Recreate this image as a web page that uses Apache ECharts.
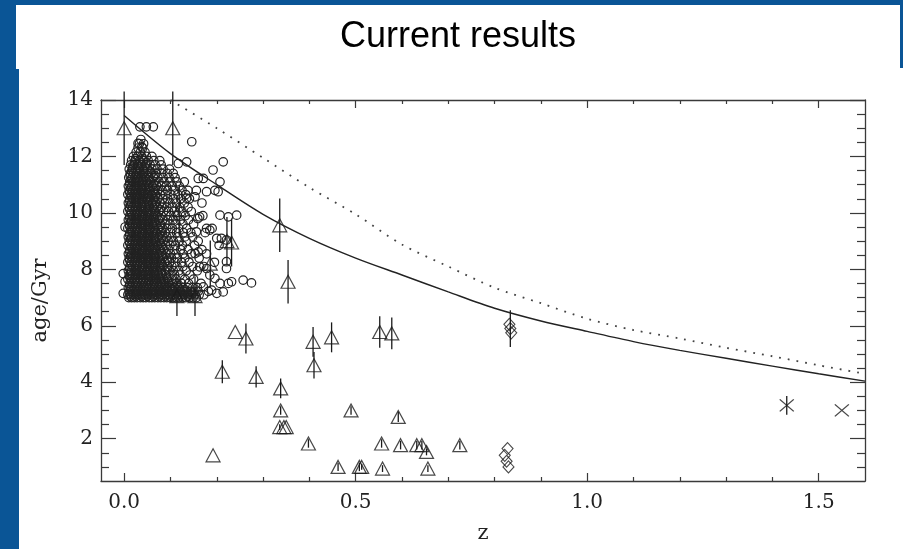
<!DOCTYPE html>
<html><head><meta charset="utf-8">
<script src="https://cdn.jsdelivr.net/npm/echarts@6/dist/echarts.min.js"></script>
<style>html,body{margin:0;padding:0;background:#0a5596;}#c{width:903px;height:549px;}</style>
</head><body><div id="c"></div>
<script>
// ---- axis ticks ----
const xMajorTicks = [0, 0.5, 1.0, 1.5];
const xMinorTicks = [0.1,0.2,0.3,0.4,0.6,0.7,0.8,0.9,1.1,1.2,1.3,1.4];
const yMajorTicks = [2,4,6,8,10,12,14];
const yMinorTicks = [1,1.5,2.5,3,3.5,4.5,5,5.5,6.5,7,7.5,8.5,9,9.5,10.5,11,11.5,12.5,13,13.5];

// ---- model curves ----
const solidZ   = [0,0.1,0.2,0.3,0.4,0.5,0.6,0.7,0.8,0.9,1.0,1.1,1.2,1.3,1.4,1.5,1.6];
const solidAge = [13.45,12.1,11.0,9.95,9.1,8.4,7.8,7.2,6.62,6.17,5.8,5.44,5.13,4.85,4.57,4.3,4.04];
const dottedZ   = [0.1,0.2,0.3,0.4,0.5,0.6,0.7,0.8,0.9,1.0,1.1,1.2,1.3,1.4,1.5,1.6];
const dottedAge = [14.0,13.0,11.95,10.9,9.95,8.88,8.1,7.35,6.8,6.25,5.85,5.55,5.22,4.92,4.6,4.3];

// ---- triangles (z, age, error) ----
const triZ   = [0.000,0.105,0.119,0.114,0.153,0.186,0.222,0.232,0.336,0.354,0.240,0.263,0.212,0.192,0.285,0.338,0.338,0.336,0.345,0.350,0.408,0.410,0.448,0.398,0.490,0.462,0.508,0.513,0.556,0.558,0.552,0.578,0.592,0.597,0.632,0.643,0.653,0.656,0.725];
const triAge = [13.0,13.0,10.1,7.05,7.05,8.2,9.0,8.95,9.56,7.56,5.78,5.55,4.37,1.41,4.19,3.78,3.0,2.41,2.41,2.41,5.43,4.6,5.59,1.83,3.0,1.0,1.0,1.0,1.83,0.94,5.78,5.73,2.77,1.77,1.77,1.77,1.53,0.94,1.77];
const triErr = [1.3,1.3,0.9,0.7,0.7,0.82,0.85,0.85,0.95,0.77,0,0.53,0.41,0,0.38,0.35,0.15,0.1,0,0,0.53,0.47,0.53,0.15,0.15,0.15,0.15,0.1,0.15,0.12,0.56,0.56,0.18,0.15,0.15,0.15,0.12,0.12,0.15];

// ---- diamonds ----
const diaZ   = [0.832,0.834,0.836,0.828,0.822,0.826,0.830];
const diaAge = [6.05,5.9,5.75,1.65,1.41,1.2,1.0];
const diaErr = [0,0.65,0,0,0,0,0];

// ---- crosses ----
const crossZ   = [1.431,1.550];
const crossAge = [3.18,3.0];
const crossErr = [0.33,0];

// ---- circle cloud: rows of [age, z values] ----
const cloudRows = [
 [7.00,[0.010,0.016,0.022,0.028,0.035,0.041,0.047,0.054,0.060,0.066,0.073,0.079,0.086,0.092,0.099,0.105,0.112,0.118,0.126,0.133,0.141,0.149,0.156]],
 [7.10,[0.008,0.014,0.020,0.027,0.033,0.039,0.045,0.051,0.058,0.064,0.070,0.077,0.083,0.090,0.096,0.103,0.110,0.116,0.123,0.130,0.138,0.145,0.153,0.162,0.172]],
 [7.22,[0.011,0.018,0.024,0.031,0.037,0.044,0.050,0.057,0.063,0.069,0.076,0.082,0.089,0.095,0.102,0.108,0.115,0.121,0.128,0.136,0.144,0.151,0.160,0.182]],
 [7.35,[0.009,0.015,0.022,0.028,0.035,0.041,0.048,0.054,0.061,0.067,0.074,0.080,0.087,0.094,0.101,0.109,0.118,0.127,0.137,0.148,0.158]],
 [7.50,[0.012,0.019,0.026,0.032,0.039,0.046,0.052,0.059,0.066,0.073,0.080,0.088,0.096,0.104,0.113,0.124,0.139,0.166]],
 [7.65,[0.008,0.015,0.022,0.029,0.036,0.042,0.049,0.056,0.063,0.070,0.077,0.085,0.093,0.102,0.112,0.131,0.150]],
 [7.80,[0.011,0.018,0.025,0.032,0.039,0.046,0.053,0.060,0.067,0.074,0.082,0.090,0.099,0.109,0.121,0.142,0.185]],
 [7.95,[0.009,0.016,0.023,0.030,0.037,0.044,0.051,0.058,0.065,0.072,0.080,0.088,0.097,0.106,0.118,0.134,0.158]],
 [8.10,[0.012,0.019,0.026,0.033,0.040,0.047,0.054,0.061,0.068,0.076,0.084,0.093,0.103,0.114,0.127,0.148,0.172]],
 [8.25,[0.008,0.015,0.022,0.029,0.036,0.043,0.050,0.057,0.064,0.071,0.079,0.088,0.098,0.110,0.124,0.140,0.195]],
 [8.40,[0.011,0.018,0.025,0.032,0.039,0.046,0.053,0.060,0.067,0.075,0.083,0.092,0.102,0.115,0.131,0.162]],
 [8.55,[0.009,0.016,0.023,0.030,0.037,0.044,0.051,0.058,0.065,0.073,0.081,0.090,0.100,0.112,0.127,0.145,0.178]],
 [8.70,[0.012,0.019,0.026,0.033,0.040,0.047,0.054,0.061,0.069,0.077,0.086,0.096,0.108,0.122,0.138,0.168]],
 [8.85,[0.008,0.015,0.022,0.029,0.036,0.043,0.050,0.057,0.064,0.072,0.080,0.089,0.099,0.111,0.126,0.152,0.205]],
 [9.00,[0.011,0.018,0.025,0.032,0.039,0.046,0.053,0.060,0.068,0.076,0.085,0.095,0.106,0.119,0.134,0.160]],
 [9.15,[0.009,0.016,0.023,0.030,0.037,0.044,0.051,0.058,0.065,0.073,0.082,0.092,0.103,0.116,0.131,0.148]],
 [9.30,[0.012,0.019,0.026,0.033,0.040,0.047,0.054,0.062,0.070,0.079,0.089,0.100,0.113,0.128,0.144,0.175]],
 [9.45,[0.008,0.015,0.022,0.029,0.036,0.043,0.050,0.057,0.065,0.073,0.082,0.092,0.104,0.118,0.135,0.190]],
 [9.60,[0.011,0.018,0.025,0.032,0.039,0.046,0.053,0.061,0.069,0.078,0.088,0.099,0.112,0.127,0.150]],
 [9.75,[0.009,0.016,0.023,0.030,0.037,0.044,0.051,0.058,0.066,0.074,0.083,0.094,0.106,0.121,0.139]],
 [9.90,[0.012,0.019,0.026,0.033,0.040,0.047,0.055,0.063,0.071,0.080,0.090,0.101,0.115,0.132,0.170]],
 [10.05,[0.008,0.015,0.022,0.029,0.036,0.043,0.050,0.058,0.066,0.075,0.085,0.096,0.109,0.125,0.145]],
 [10.20,[0.011,0.018,0.025,0.032,0.039,0.046,0.054,0.062,0.071,0.081,0.092,0.105,0.120,0.138]],
 [10.35,[0.009,0.016,0.023,0.030,0.037,0.044,0.052,0.060,0.068,0.077,0.087,0.099,0.113,0.130,0.168]],
 [10.50,[0.012,0.019,0.026,0.033,0.040,0.048,0.056,0.064,0.073,0.083,0.094,0.107,0.122,0.141]],
 [10.65,[0.008,0.015,0.022,0.029,0.036,0.043,0.051,0.059,0.068,0.078,0.089,0.101,0.116,0.133]],
 [10.80,[0.011,0.018,0.025,0.032,0.039,0.047,0.055,0.063,0.072,0.082,0.094,0.108,0.125]],
 [10.95,[0.009,0.016,0.023,0.030,0.037,0.045,0.053,0.061,0.070,0.080,0.091,0.104,0.119]],
 [11.10,[0.012,0.019,0.026,0.033,0.040,0.048,0.056,0.065,0.075,0.086,0.099,0.114,0.130]],
 [11.25,[0.010,0.017,0.024,0.031,0.038,0.046,0.054,0.063,0.073,0.084,0.097,0.110]],
 [11.40,[0.013,0.020,0.027,0.034,0.042,0.050,0.059,0.069,0.080,0.093,0.106]],
 [11.55,[0.011,0.018,0.025,0.033,0.041,0.050,0.060,0.071,0.084,0.098]],
 [11.70,[0.014,0.021,0.029,0.037,0.046,0.056,0.067,0.080]],
 [11.85,[0.016,0.024,0.033,0.042,0.052,0.064,0.077]],
 [12.00,[0.020,0.029,0.038,0.048,0.060]],
 [12.15,[0.026,0.035,0.045]],
 [12.30,[0.030,0.040]],
 [12.45,[0.033,0.042]],
 [12.60,[0.036]]
];
// dark core, rows lying between the rows above
const coreRows = [
 [7.05,[0.013,0.025,0.038,0.050,0.063,0.075,0.088,0.100,0.113,0.125,0.138]],
 [7.16,[0.011,0.024,0.036,0.049,0.061,0.074,0.086,0.099,0.111,0.124,0.136,0.149]],
 [7.28,[0.014,0.027,0.040,0.052,0.065,0.078,0.091,0.104,0.117,0.131]],
 [7.42,[0.012,0.025,0.037,0.050,0.062,0.075,0.088,0.101,0.115]],
 [7.57,[0.015,0.028,0.041,0.054,0.067,0.081,0.095]],
 [7.72,[0.012,0.025,0.038,0.051,0.064,0.078,0.092]],
 [7.87,[0.014,0.027,0.040,0.053,0.066,0.080]],
 [8.02,[0.012,0.025,0.038,0.051,0.064,0.078,0.093]],
 [8.17,[0.015,0.028,0.041,0.054,0.067,0.081]],
 [8.32,[0.012,0.025,0.038,0.051,0.064,0.078,0.094]],
 [8.47,[0.014,0.027,0.040,0.053,0.066,0.080]],
 [8.62,[0.012,0.025,0.038,0.051,0.064,0.079]],
 [8.77,[0.015,0.028,0.041,0.054,0.067,0.082]],
 [8.92,[0.012,0.025,0.038,0.051,0.064,0.078]],
 [9.07,[0.014,0.027,0.040,0.053,0.066,0.081]],
 [9.22,[0.012,0.025,0.038,0.051,0.064,0.077]],
 [9.37,[0.015,0.028,0.041,0.054,0.067,0.080]],
 [9.52,[0.012,0.025,0.038,0.051,0.064,0.078]],
 [9.67,[0.014,0.027,0.040,0.053,0.066]],
 [9.82,[0.012,0.025,0.038,0.051,0.064,0.077]],
 [9.97,[0.015,0.028,0.041,0.054,0.067]],
 [10.12,[0.012,0.025,0.038,0.051,0.064,0.078]],
 [10.27,[0.014,0.027,0.040,0.053,0.066]],
 [10.42,[0.012,0.025,0.038,0.051,0.064]],
 [10.57,[0.015,0.028,0.041,0.054,0.068]],
 [10.72,[0.012,0.025,0.038,0.051,0.064]],
 [10.87,[0.014,0.027,0.040,0.053,0.067]],
 [11.02,[0.012,0.025,0.038,0.051,0.064]],
 [11.17,[0.015,0.028,0.041,0.054]],
 [11.32,[0.013,0.026,0.039,0.052,0.066]],
 [11.47,[0.016,0.029,0.042,0.056]],
 [11.62,[0.018,0.031,0.045]],
 [11.77,[0.022,0.035,0.049]],
 [11.92,[0.025,0.040]]
];
const outlierZ   = [0.034,0.048,0.063,0.030,0.038,0.146,0.214,0.192,0.135,0.117,0.160,0.171,0.207,0.196,0.203,0.156,0.138,0.178,0.135,0.153,0.163,0.159,0.207,0.243,0.225,0.178,0.185,0.156,0.200,0.210,0.221,0.160,0.153,0.221,0.221,0.163,0.178,0.196,0.207,0.232,0.225,0.257,0.275,0.189,0.214,0.200,0.171,0.002,-0.002,0.002,-0.002];
const outlierAge = [13.05,13.05,13.05,12.46,12.34,12.52,11.81,11.52,11.81,11.75,11.22,11.22,11.1,10.8,10.75,10.8,10.8,10.75,10.52,10.57,9.86,9.8,9.92,9.92,9.86,9.45,9.39,9.33,9.1,9.1,9.04,8.62,8.56,8.27,8.03,8.09,8.03,7.68,7.5,7.56,7.5,7.62,7.52,7.26,7.2,7.15,7.38,9.5,7.85,7.56,7.15];

// ---------- build series data ----------
const circleData = [];
cloudRows.forEach(r => r[1].forEach(z => circleData.push([z, r[0]])));
coreRows.forEach(r => r[1].forEach(z => circleData.push([z, r[0]])));
outlierZ.forEach((z, i) => circleData.push([z, outlierAge[i]]));
const zip2 = (a, b) => a.map((v, i) => [v, b[i]]);
const errData = [];
triZ.forEach((z, i) => { if (triErr[i] > 0) errData.push([z, triAge[i] - triErr[i], triAge[i] + triErr[i]]); });
diaZ.forEach((z, i) => { if (diaErr[i] > 0) errData.push([z, diaAge[i] - diaErr[i], diaAge[i] + diaErr[i]]); });
crossZ.forEach((z, i) => { if (crossErr[i] > 0) errData.push([z, crossAge[i] - crossErr[i], crossAge[i] + crossErr[i]]); });

const AX = '#3a3a3a';
const FONT = 'DejaVu Serif';
const XMIN = -0.05, XMAX = 1.6, YMIN = 0.5, YMAX = 14;
function xAx(pos, major, showLine) {
  return {
    type: 'value', min: XMIN, max: XMAX, position: pos, gridIndex: 0,
    axisLine: { show: showLine, onZero: false, lineStyle: { color: AX, width: 1.3 } },
    axisTick: { show: true, inside: true, length: major ? 8 : 4, customValues: major ? xMajorTicks : xMinorTicks, lineStyle: { color: AX, width: 1.2 } },
    axisLabel: { show: false },
    splitLine: { show: false }
  };
}
function yAx(pos, major, showLine) {
  return {
    type: 'value', min: YMIN, max: YMAX, position: pos, gridIndex: 0,
    axisLine: { show: showLine, onZero: false, lineStyle: { color: AX, width: 1.3 } },
    axisTick: { show: true, inside: true, length: major ? 15 : 8, customValues: major ? yMajorTicks : yMinorTicks, lineStyle: { color: AX, width: 1.2 } },
    axisLabel: { show: false },
    splitLine: { show: false }
  };
}
const xAxes = [xAx('bottom', true, true), xAx('bottom', false, false), xAx('top', true, true), xAx('top', false, false)];
xAxes[0].axisLabel = { show: true, customValues: xMajorTicks, formatter: v => v.toFixed(1), margin: 12, color: '#222', fontFamily: FONT, fontSize: 20 };
xAxes[0].name = 'z';
xAxes[0].nameLocation = 'middle';
xAxes[0].nameGap = 42;
xAxes[0].nameTextStyle = { color: '#222', fontFamily: FONT, fontSize: 21 };
const yAxes = [yAx('left', true, true), yAx('left', false, false), yAx('right', true, true), yAx('right', false, false)];
yAxes[0].axisLabel = { show: true, customValues: yMajorTicks, formatter: v => String(v), margin: 8, color: '#222', fontFamily: FONT, fontSize: 20, padding: [12, 0, 0, 0] };
yAxes[0].name = 'age/Gyr';
yAxes[0].nameLocation = 'middle';
yAxes[0].nameGap = 50;
yAxes[0].nameTextStyle = { color: '#222', fontFamily: FONT, fontSize: 21, padding: [0, 20, 0, 0] };

const option = {
  animation: false,
  backgroundColor: '#0a5596',
  graphic: { elements: [
    { type: 'rect', z: -10, shape: { x: 16, y: 5, width: 884, height: 64 }, style: { fill: '#ffffff' } },
    { type: 'rect', z: -10, shape: { x: 19, y: 68, width: 884, height: 481 }, style: { fill: '#ffffff' } },
    { type: 'text', z: 10, x: 458, y: 37, style: { text: 'Current results', font: '36px "Liberation Sans", Arial, sans-serif', fill: '#000', textAlign: 'center', textVerticalAlign: 'middle' } }
  ]},
  grid: { left: 101, right: 38, top: 100, bottom: 68, containLabel: false },
  xAxis: xAxes,
  yAxis: yAxes,
  series: [
    { type: 'scatter', name: 'galaxies', data: circleData, symbol: 'circle', symbolSize: 8.5, silent: true,
      itemStyle: { color: 'none', borderColor: '#222', borderWidth: 1.2, opacity: 1 } },
    { type: 'line', data: zip2(solidZ, solidAge), showSymbol: false, smooth: 0.3, silent: true,
      lineStyle: { color: '#222', width: 1.4 } },
    { type: 'line', data: zip2(dottedZ, dottedAge), showSymbol: false, smooth: 0.3, silent: true,
      lineStyle: { color: '#444', width: 1.8, type: [1.8, 7] } },
    { type: 'custom', data: errData, clip: false, silent: true,
      renderItem: (params, api) => {
        const p1 = api.coord([api.value(0), api.value(1)]);
        const p2 = api.coord([api.value(0), api.value(2)]);
        return { type: 'line', shape: { x1: p1[0], y1: p1[1], x2: p2[0], y2: p2[1] }, style: { stroke: '#1a1a1a', lineWidth: 1.3 } };
      } },
    { type: 'scatter', data: zip2(triZ, triAge), symbol: 'triangle', symbolSize: [14, 13], silent: true,
      itemStyle: { color: 'none', borderColor: '#1a1a1a', borderWidth: 1.2 } },
    { type: 'scatter', data: zip2(diaZ, diaAge), symbol: 'diamond', symbolSize: [11, 12], silent: true,
      itemStyle: { color: 'none', borderColor: '#1a1a1a', borderWidth: 1.1 } },
    { type: 'scatter', data: zip2(crossZ, crossAge), symbol: 'path://M0,0L10,10M10,0L0,10', symbolSize: [14, 12], silent: true,
      itemStyle: { color: 'none', borderColor: '#1a1a1a', borderWidth: 1.3 } }
  ]
};
const chart = echarts.init(document.getElementById('c'), null, { renderer: 'canvas' });
chart.setOption(option);
</script></body></html>
